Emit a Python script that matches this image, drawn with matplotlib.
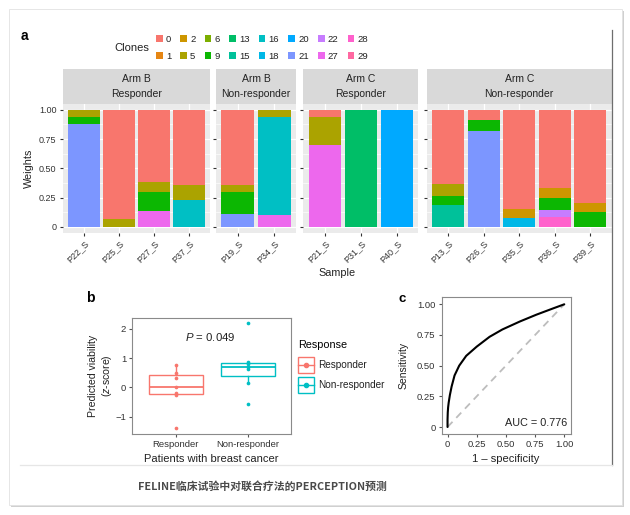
import matplotlib
matplotlib.use("Agg")
import matplotlib.pyplot as plt
from matplotlib.lines import Line2D
from matplotlib.patches import Rectangle, Patch

plt.rcParams['font.family'] = ['Liberation Sans', 'Noto Sans CJK SC', 'DejaVu Sans']
plt.rcParams['mathtext.fontset'] = 'custom'
plt.rcParams['mathtext.rm'] = 'Liberation Sans'
plt.rcParams['mathtext.it'] = 'Liberation Sans:italic'

W, H = 630, 515

# ---- panel a data ----
clones = [0, 1, 2, 5, 6, 9, 13, 15, 16, 18, 20, 21, 22, 27, 28, 29]
clone_colors = ["#F8766D", "#E68613", "#CD9600", "#ABA300", "#7CAE00", "#0CB702",
                "#00BE67", "#00C19A", "#00BFC4", "#00B8E7", "#00A9FF", "#7C96FF",
                "#C77CFF", "#ED68ED", "#FF61CC", "#FF68A1"]

facet_arm = ["Arm B", "Arm B", "Arm C", "Arm C"]
facet_resp = ["Responder", "Non-responder", "Responder", "Non-responder"]
facet_samples = [["P22_S", "P25_S", "P27_S", "P37_S"],
                 ["P19_S", "P34_S"],
                 ["P21_S", "P31_S", "P40_S"],
                 ["P13_S", "P26_S", "P35_S", "P36_S", "P39_S"]]

samples = ["P22_S", "P25_S", "P27_S", "P37_S", "P19_S", "P34_S", "P21_S",
           "P31_S", "P40_S", "P13_S", "P26_S", "P35_S", "P36_S", "P39_S"]
sample_clones = [[5, 9, 21], [0, 5], [0, 5, 9, 27], [0, 5, 16], [0, 5, 9, 21],
                 [5, 16, 27], [0, 5, 27], [13], [20], [0, 5, 9, 15], [0, 9, 21],
                 [0, 2, 18], [0, 2, 9, 22, 28], [0, 2, 9]]
sample_weights = [[0.062, 0.060, 0.878], [0.929, 0.071], [0.620, 0.085, 0.161, 0.134],
                  [0.645, 0.128, 0.227], [0.640, 0.062, 0.190, 0.108],
                  [0.0625, 0.840, 0.0975], [0.0625, 0.2375, 0.700], [1.0], [1.0],
                  [0.630, 0.103, 0.080, 0.187], [0.091, 0.089, 0.820],
                  [0.844, 0.079, 0.077], [0.670, 0.080, 0.108, 0.057, 0.085],
                  [0.795, 0.080, 0.125]]

# ---- panel b data ----
groups = ["Responder", "Non-responder"]
group_colors = ["#F8766D", "#00BFC4"]
responder_scores = [-1.39, -0.25, -0.19, 0.0, 0.33, 0.49, 0.76]
nonresponder_scores = [-0.58, 0.16, 0.62, 0.71, 0.79, 0.855, 2.18]

# ---- panel c data ----
fpr = [0, 0.0, 0.002, 0.005, 0.01, 0.02, 0.035, 0.06, 0.1, 0.16, 0.25, 0.36,
       0.47, 0.62, 0.76, 0.9, 1.0]
tpr = [0, 0.06, 0.12, 0.16, 0.20, 0.26, 0.33, 0.42, 0.50, 0.58, 0.655, 0.735,
       0.795, 0.86, 0.915, 0.965, 1.0]
diag = [0, 1]
unit_ticks = [0, 0.25, 0.5, 0.75, 1.0]
unit_labels = ["0", "0.25", "0.50", "0.75", "1.00"]


def box(x0, y0, x1, y1):
    # pixel box (origin top-left) -> figure rect
    return [x0 / W, 1 - y1 / H, (x1 - x0) / W, (y1 - y0) / H]


def fx(x):
    return x / W


def fy(y):
    return 1 - y / H


fig = plt.figure(figsize=(6.3, 5.15), dpi=100, facecolor="white")

# card with shadow
fig.add_artist(Rectangle((fx(11), fy(507)), (613) / W, (496) / H, transform=fig.transFigure,
                         facecolor="#D0D0D0", edgecolor="none", zorder=-3))
fig.add_artist(Rectangle((fx(9), fy(505)), (613) / W, (496) / H, transform=fig.transFigure,
                         facecolor="white", edgecolor="#E2E2E2", lw=0.6, zorder=-2))
fig.add_artist(Line2D([fx(612), fx(612)], [fy(30), fy(465)], transform=fig.transFigure,
                      color="#6E6E6E", lw=0.9))
fig.add_artist(Line2D([fx(20), fx(612)], [fy(465), fy(465)], transform=fig.transFigure,
                      color="#E6E6E6", lw=0.9))

color_of = dict(zip(clones, clone_colors))
txt = "#222222"

# ---- panel a ----
panel_px = [(62.7, 210), (216, 296), (303.3, 418.3), (426.7, 611.7)]
for i, (xa, xb) in enumerate(panel_px):
    names = facet_samples[i]
    ax = fig.add_axes(box(xa, 104, xb, 232.7))
    for j, s in enumerate(names):
        k = samples.index(s)
        segs = sorted(zip(sample_clones[k], sample_weights[k]), reverse=True)
        bottom = 0
        for c, v in segs:
            ax.bar(j + 1, v, 0.9, bottom=bottom, color=color_of[c], linewidth=0, zorder=2)
            bottom += v
    ax.set_xlim(0.4, len(names) + 0.6)
    ax.set_ylim(-0.05, 1.05)
    ax.set_facecolor("#EBEBEB")
    for sp in ax.spines.values():
        sp.set_visible(False)
    ax.set_yticks(unit_ticks)
    ax.set_yticks([0.125, 0.375, 0.625, 0.875], minor=True)
    ax.grid(True, which="major", color="white", lw=0.9, zorder=0)
    ax.grid(True, which="minor", axis="y", color="white", lw=0.45, zorder=0)
    ax.set_axisbelow(True)
    ax.set_xticks(range(1, len(names) + 1))
    ax.set_xticklabels(names, rotation=45, ha="right", rotation_mode="anchor")
    ax.tick_params(which="both", length=2.5, color="#333333", labelsize=6.5,
                   labelcolor="#333333", pad=2)
    ax.tick_params(which="minor", length=0)
    if i == 0:
        ax.set_yticklabels(unit_labels)
    else:
        ax.tick_params(axis="y", labelleft=False)
    sax = fig.add_axes(box(xa, 69.3, xb, 104))
    sax.set_facecolor("#D9D9D9")
    sax.set_xticks([])
    sax.set_yticks([])
    for sp in sax.spines.values():
        sp.set_visible(False)
    sax.text(0.5, 0.5, facet_arm[i] + "\n" + facet_resp[i], ha="center", va="center",
             fontsize=7.5, color=txt, linespacing=1.7, transform=sax.transAxes)

fig.text(fx(29), fy(168.5), "Weights", rotation=90, ha="center", va="center",
         fontsize=7.8, color=txt)
fig.text(fx(337), fy(272.5), "Sample", ha="center", va="center", fontsize=7.8, color=txt)

fig.text(fx(149), fy(48), "Clones", ha="right", va="center", fontsize=8, color=txt)
handles = [Patch(facecolor=c, edgecolor="none") for c in clone_colors]
fig.legend(handles, [str(c) for c in clones], ncol=8, loc="center left",
           bbox_to_anchor=(fx(151), fy(48)), frameon=False, fontsize=6.8,
           handlelength=0.72, handleheight=0.8, handletextpad=0.35,
           columnspacing=0.95, labelspacing=0.85, borderpad=0, labelcolor=txt)

fig.text(fx(24), fy(36.5), "a", ha="center", va="center", fontsize=10,
         fontweight="bold", color="black")

# ---- panel b ----
axb = fig.add_axes(box(132.3, 317.7, 290.7, 433.7))
data_b = [responder_scores, nonresponder_scores]
bp = axb.boxplot(data_b, positions=[1, 2], widths=0.75, showfliers=False,
                 showcaps=False, patch_artist=True, whis=1.5)
for g, col in enumerate(group_colors):
    bp["boxes"][g].set(facecolor="white", edgecolor=col, lw=1.0)
    bp["medians"][g].set(color=col, lw=1.3)
    for w in bp["whiskers"][2 * g:2 * g + 2]:
        w.set(color=col, lw=1.0)
    axb.scatter([g + 1] * len(data_b[g]), data_b[g], s=7, color=col, zorder=3,
                linewidths=0)
axb.set_xlim(0.4, 2.6)
axb.set_ylim(-1.58, 2.375)
axb.set_yticks([-1, 0, 1, 2])
axb.set_xticks([1, 2])
axb.set_xticklabels(groups)
for sp in axb.spines.values():
    sp.set_color("#8A8A8A")
    sp.set_linewidth(0.8)
axb.tick_params(length=2.5, color="#555555", labelsize=6.8, labelcolor="#333333", pad=2)
axb.text(1.48, 1.7, r"$\it{P}$ = 0.049", ha="center", va="center", fontsize=8.2, color=txt)

fig.text(fx(101), fy(375.7), "Predicted viability\n" + r"($\it{z}$-score)", rotation=90,
         ha="center", va="center", fontsize=7.6, color=txt, linespacing=1.2)
fig.text(fx(211.7), fy(459), "Patients with breast cancer", ha="center", va="center",
         fontsize=8, color=txt)

leg_handles = [(Line2D([], [], marker="s", mfc="white", mec=c, mew=1.0, ms=11, ls=""),
                Line2D([], [], marker="o", color=c, ms=3, lw=1.0)) for c in group_colors]
fig.legend(leg_handles, groups, title="Response", loc="upper left",
           bbox_to_anchor=(fx(293), fy(335)), frameon=False, fontsize=7.2,
           title_fontsize=7.8, handlelength=1.6, labelspacing=1.0, handletextpad=0.4,
           borderpad=0, alignment="left", labelcolor=txt)
fig.text(fx(90), fy(298), "b", ha="center", va="center", fontsize=10,
         fontweight="bold", color="black")

# ---- panel c ----
axc = fig.add_axes(box(441.7, 297.3, 570.7, 434))
axc.plot(diag, diag, ls=(0, (4, 3)), color="#BDBDBD", lw=1.3)
axc.plot(fpr, tpr, color="black", lw=1.5, solid_capstyle="round", solid_joinstyle="round")
axc.set_xlim(-0.05, 1.055)
axc.set_ylim(-0.057, 1.057)
axc.set_xticks(unit_ticks)
axc.set_xticklabels(unit_labels)
axc.set_yticks(unit_ticks)
axc.set_yticklabels(unit_labels)
for sp in axc.spines.values():
    sp.set_color("#8A8A8A")
    sp.set_linewidth(0.8)
axc.tick_params(length=2.5, color="#555555", labelsize=6.8, labelcolor="#333333", pad=2)
axc.text(0.97, 0.08, "AUC = 0.776", ha="right", va="center", fontsize=7.8, color=txt,
         transform=axc.transAxes)
fig.text(fx(403.5), fy(365), "Sensitivity", rotation=90, ha="center", va="center",
         fontsize=7.5, color=txt)
fig.text(fx(506), fy(459), "1 \u2013 specificity", ha="center", va="center",
         fontsize=8, color=txt)
fig.text(fx(402), fy(299.5), "c", ha="center", va="center", fontsize=9.5,
         fontweight="bold", color="black")

# caption
fig.text(fx(262), fy(486), "FELINE临床试验中对联合疗法的PERCEPTION预测", ha="center",
         va="center", fontsize=7.8, fontweight="bold", color="#4A4A4A",
         family=["Noto Sans CJK SC", "DejaVu Sans"])

fig.savefig("out.png", dpi=100, facecolor="white")
